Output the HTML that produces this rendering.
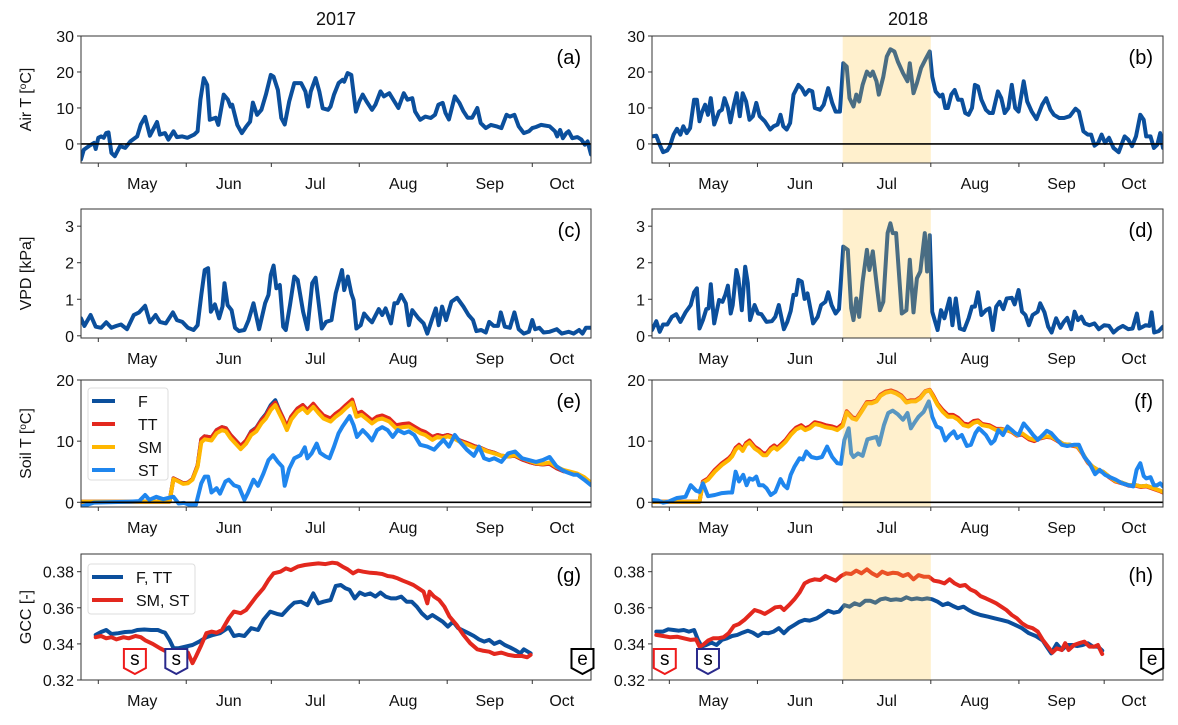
<!DOCTYPE html>
<html><head><meta charset="utf-8"><style>
html,body{margin:0;padding:0;background:#fff;}
svg{display:block;font-family:"Liberation Sans","DejaVu Sans",sans-serif;}
</style></head><body>
<svg id="chart" width="1178" height="725" viewBox="0 0 1178 725" xmlns="http://www.w3.org/2000/svg"></svg>
<script>
// ---------- DATA (days since May 1) ----------
const monthTickDays = [0,31,61,92,123,153];
const monthLabelDays = [15.5,46,76.5,107.5,138,163.4];
const monthLabels = ["May","Jun","Jul","Aug","Sep","Oct"];
const shadeStart = 61, shadeEnd = 92;

const airDays17 = [-6.1,-5.1,-3.3,-1.5,-0.9,0,1,1.9,2.8,3.6,4.6,5.8,7.7,9.5,11.3,13.7,15,16.5,18.2,20.7,21.7,23.5,24.7,26.5,27.7,29.6,31.4,33.8,35,36,37.2,38.4,39.3,41.4,42.3,44.2,45.7,46.6,47.2,49,50.6,52.1,53.5,54.5,56,57.5,59.1,60.8,61.8,63.3,64.5,65.7,67.3,69.1,71.5,73,74,74.9,76.6,77.9,79.1,81,81.9,83.1,84.7,86.1,86.7,87.9,89.2,90.8,92,93.2,94.6,96.5,97.7,99.5,100.7,102.6,104.4,105.8,107.7,109,110.7,111.7,113.5,115.3,117.2,118.7,119.9,121.4,122.4,123.6,124.5,125.7,127.3,128.7,130.2,131.8,133.6,134.8,136.6,138.4,140.3,142.1,143.9,145.1,146.7,148.2,150,151.8,153,154.3,156.1,159.1,161,161.8,162.8,163.8,165,165.8,167.1,168.9,170.3,171.5,172.5,173.7];
const airVals17 = [-4.3,-1.6,-0.6,0.3,-1.4,1.7,2.1,1.7,3.0,3.2,-2.5,-3.4,-0.6,-1.1,0.7,2.1,5.4,7.5,2.3,6.1,2.6,3.0,1.2,3.5,1.9,2.1,1.7,2.6,3.5,12.3,18.3,16.4,6.7,7.3,5.3,13.7,12.3,10.4,10.9,5.3,3.0,4.8,6.2,11.5,8.1,9.5,13.7,19.2,18.7,15.0,7.2,5.4,11.8,16.9,16.9,14.6,10.4,14.6,18.3,14.6,9.9,9.5,10.4,13.7,16.9,17.8,17.3,19.7,19.2,9.0,11.8,13.7,11.8,9.5,10.9,14.6,13.2,14.1,11.8,10.0,14.1,12.3,12.7,9.0,6.7,7.6,7.2,8.1,10.9,11.4,8.6,6.8,9.5,13.2,11.4,9.1,7.3,7.3,10.0,5.8,4.4,5.3,4.9,4.4,8.1,7.6,8.1,4.9,3.0,3.5,4.4,4.7,5.3,4.9,3.5,2.1,3.9,1.6,3.0,3.5,1.6,1.9,1.2,-0.2,0.7,-2.9];

const airDays18 = [-6.1,-4.6,-3.4,-2.2,-0.7,0.2,1.5,2.7,3.9,4.9,6.1,7.3,8.7,9.7,10.6,11.4,12.6,13.6,14.6,15.8,17.5,18.5,19.4,20.6,21.5,22.7,23.7,24.8,25.8,27,28.2,29.4,30.6,31.8,33.6,35.5,36.7,38.1,39.1,40.1,41.3,42.5,43.7,45.4,46.6,47.8,49.1,50.3,51.2,53.1,54.3,55.9,57.3,58.5,60,61.2,62.4,63.4,64.8,65.8,66.8,68,69.5,70.7,71.6,72.9,73.7,75.3,76.5,77.8,79.2,80.4,82.2,83.8,84.6,85.9,87.1,88.6,90.3,91.6,92.5,93.7,95.2,96.1,97.1,98,99.2,100.4,101.6,102.9,104.1,105.3,106.5,107.5,108.6,109.8,111.4,112.6,113.8,115.6,116.8,118,119.3,120.5,121.7,122.9,124.7,125.9,127.5,129.2,131.2,132.6,134.1,135.3,137.2,138.9,140.9,142.9,144.1,145.7,147.2,148.4,149.6,150.9,152.1,153.3,154.7,156.3,158.1,160.2,161.5,162.8,164.2,165.7,166.9,167.8,169.3,170.5,171.7,172.7,173.7];
const airVals18 = [2.1,2.3,-0.2,-2.3,-1.8,-0.6,2.6,4.2,2.6,4.9,3.0,4.4,12.3,12.3,6.3,8.6,10.9,8.1,12.7,5.4,9.0,9.5,12.7,10.0,6.0,10.9,14.1,7.7,14.1,11.8,6.7,7.7,11.4,7.7,6.3,4.0,4.9,5.4,8.1,4.9,4.0,5.8,13.7,16.4,15.5,13.7,15.0,14.6,10.0,9.5,10.9,15.5,11.4,9.0,9.0,22.4,21.5,12.7,10.4,13.7,11.8,16.4,20.1,18.9,20.1,17.4,13.7,18.7,24.3,26.3,25.7,22.9,19.7,17.4,22.4,14.1,16.9,21.1,23.8,25.7,18.7,14.6,13.2,13.7,10.0,10.0,13.7,15.0,12.3,12.3,8.6,8.1,10.0,16.4,16.0,12.3,9.5,8.6,8.6,14.6,12.7,8.6,10.0,16.4,10.0,9.0,17.4,11.8,9.0,6.9,10.9,12.7,9.5,8.1,7.2,7.2,7.7,9.8,9.0,3.5,2.6,2.6,-0.5,0.3,2.6,0.3,1.7,-1.1,-2.3,2.1,1.2,-0.6,2.1,8.1,6.7,2.1,2.1,-1.1,-0.2,3.0,-1.1];

const vpdDays17 = [-6.1,-4.9,-2.7,-0.9,1,2.8,4.6,6.4,8,10.1,12.5,14.4,16.5,18.2,20.2,21.7,23.8,26.3,27.7,29.6,31.6,33.6,35,36.3,37.5,38.7,39.7,41.1,42.6,43.8,44.5,45.6,47,48.2,49.6,51.5,53,54.7,56.7,58.8,60,60.8,61.8,62.8,64,65.2,66.1,67.6,69.1,70.3,72.2,73.7,75.4,76.6,78.8,80.3,82.2,83.7,85.9,86.7,88,89.2,90,91,92.5,93.7,95.3,96.5,98.9,100.1,101.3,103.2,104.4,105.4,106.8,108.4,109.5,110.7,112.9,114.7,116,117.8,119,120,121.2,122.6,124.5,126.5,128.7,130.5,132.1,133.3,135,136.6,137.8,139.4,140.9,141.9,143.3,145.1,146.7,148.2,150,151.8,153,154,155.5,157,159.1,161.6,163.4,165.8,167.6,169.5,170.7,171.9,173.7];
const vpdVals17 = [0.48,0.27,0.57,0.25,0.22,0.37,0.22,0.27,0.31,0.18,0.57,0.64,0.82,0.37,0.57,0.38,0.34,0.64,0.43,0.38,0.22,0.16,0.29,1.12,1.8,1.85,0.66,0.86,0.48,0.8,1.44,0.84,0.7,0.22,0.13,0.16,0.43,0.89,0.18,0.89,1.12,1.67,1.92,1.3,1.39,0.25,0.16,0.84,1.62,1.53,0.66,0.18,1.44,1.59,0.2,0.38,0.43,1.16,1.8,1.25,1.62,1.16,0.98,0.2,0.29,0.61,0.46,0.37,0.73,0.57,0.75,0.34,0.89,0.89,1.12,0.89,0.29,0.7,0.48,0.34,0.06,0.48,0.75,0.29,0.8,0.43,0.93,1.04,0.8,0.57,0.43,0.13,0.16,0.09,0.38,0.27,0.27,0.64,0.25,0.22,0.64,0.18,0.06,0.11,0.43,0.18,0.22,0.09,0.11,0.18,0.06,0.11,0.06,0.16,0.06,0.22,0.22];

const vpdDays18 = [-6.1,-4.6,-3.4,-2.2,-0.7,0.9,2.4,3.9,5.7,7.5,8.7,9.7,10.6,11.8,13,13.8,14.6,15.8,17.5,18.7,19.7,20.6,21.6,22.3,23.6,24.3,25.5,26.7,27.6,28.4,30,31.2,32.4,34.2,36.1,37.3,38.5,40.3,41.5,42.7,43.7,44.6,45.4,46.6,47.6,48.6,49.4,50.6,52.2,53.4,54.9,55.9,57.1,58.5,59.7,61.2,62.8,64,64.8,65.8,66.8,68,69.5,70.4,71.6,73.1,74.1,75.3,76.8,77.8,78.6,79.8,81.8,83.4,84.6,85.9,87.1,88.3,89.9,90.7,91.6,92.5,94.4,95.6,96.8,98.6,99.6,100.8,102.2,103.7,105.3,106.5,107.5,108.6,109.8,111.4,112.6,113.8,115,116.2,117.5,118.7,120.5,121.5,122.9,124.1,125.3,126.5,127.8,129.6,130.5,132,133.3,134.5,136.1,137.6,138.8,140,141.4,142.6,143.8,145,146.2,147.8,149.6,151.1,153,154.7,156.3,157.9,159.6,161.5,163,164.5,165.4,167.6,168.9,169.7,170.6,172.2,173.7];
const vpdVals18 = [0.16,0.4,0.11,0.31,0.31,0.52,0.59,0.38,0.64,0.84,1.19,1.3,0.2,0.43,0.73,0.75,1.41,0.34,0.98,0.93,1.12,1.37,0.61,0.84,1.8,1.57,0.7,1.89,1.44,0.43,0.84,0.61,0.59,0.38,0.4,0.52,0.84,0.18,0.38,0.68,1.12,1.12,1.53,1.48,1.01,1.16,0.84,0.34,0.52,0.84,0.93,1.19,0.84,0.61,0.73,2.44,2.35,0.75,0.43,1.02,0.52,1.48,2.35,1.8,2.31,1.3,0.7,0.93,2.81,3.08,2.81,2.81,0.61,0.7,2.08,0.64,1.57,1.76,2.81,1.76,2.75,0.66,0.16,0.7,0.48,1.02,0.29,1.02,0.2,0.16,0.48,0.8,0.8,1.19,0.57,0.7,0.75,0.16,0.8,0.93,0.73,1.02,1.04,0.86,1.25,0.66,0.57,0.29,0.57,0.66,0.89,0.64,0.25,0.09,0.48,0.22,0.38,0.49,0.18,0.66,0.43,0.52,0.34,0.29,0.34,0.18,0.29,0.27,0.09,0.2,0.27,0.18,0.2,0.61,0.2,0.29,0.27,0.64,0.09,0.13,0.25];

const soilDays17 = [-6.1,25.1,26.5,28.3,29.9,31.6,33.2,35,36.3,37.5,39.9,41.7,43.6,45,46.6,48.4,50.2,52.1,53.9,55.7,57.5,59.1,60.8,62.4,63.7,64.9,66.5,68,70.2,72.1,73.7,75.8,77.6,79.4,81.9,83.7,85.5,87.3,89.5,91,92.8,94.9,96.5,98.3,100.1,102.6,105,107.4,109.5,111.7,113.5,115.3,117.8,119.6,121.4,123.2,125.1,127.5,129.9,132.4,134.8,137.2,139.6,142.1,144.5,146.9,149.4,151.8,154.3,156.7,159.1,161.5,164,166.4,168.9,171.3,173.7];
const soilSM17 = [0.1,0.1,3.8,3.4,3.0,3.1,3.7,5.8,9.8,10.3,10.1,11.3,11.8,11.6,10.5,9.6,8.7,9.6,11.0,11.6,12.9,13.7,15.1,15.9,14.6,13.5,11.8,13.5,14.8,15.4,14.6,15.6,14.6,13.7,13.2,14.0,14.6,15.4,16.3,14.0,14.3,13.5,12.9,13.5,13.7,13.2,12.1,12.3,12.4,11.8,11.3,11.0,10.2,10.7,10.5,10.8,10.5,9.9,9.5,9.0,8.8,8.3,8.0,7.6,7.5,7.7,7.2,6.8,6.4,6.3,6.5,5.8,5.3,5.0,4.7,4.1,3.2];
const soilTT17 = [0.1,0.1,3.9,3.5,3.1,3.2,3.8,6.0,10.3,10.8,10.6,11.8,12.3,12.1,11.0,10.1,9.2,10.1,11.5,12.1,13.4,14.2,15.6,16.3,15.1,14.0,12.3,14.0,15.3,15.9,15.1,16.1,15.1,14.2,13.7,14.5,15.1,15.9,16.8,14.5,14.8,14.0,13.4,14.0,14.2,13.7,12.6,12.8,12.9,12.3,11.8,11.5,10.7,11.0,10.8,11.0,10.7,10.1,9.7,9.2,8.9,8.4,8.1,7.6,7.5,7.6,7.0,6.6,6.3,6.2,6.3,5.6,5.1,4.9,4.6,4.0,3.1];
const soilF17 = [0.1,0.1,3.9,3.5,3.1,3.2,3.8,6.0,10.3,10.8,10.6,11.8,12.3,12.1,11.0,10.1,9.2,10.1,11.6,12.2,13.5,14.4,15.9,16.7,15.2,14.0,12.3,14.0,15.3,15.9,15.1,16.0,15.0,14.1,13.6,14.4,15.0,15.8,16.7,14.4,14.7,13.9,13.3,13.9,14.1,13.6,12.5,12.7,12.8,12.2,11.7,11.4,10.6,11.0,10.8,11.0,10.7,10.1,9.7,9.2,8.9,8.4,8.1,7.6,7.5,7.6,7.0,6.6,6.3,6.2,6.3,5.6,5.1,4.9,4.6,4.0,3.1];

const stDays17 = [-6.1,-3.9,-1.5,3.4,10.7,14.4,16.5,18,20.4,22.9,25.3,26.5,28.3,30.2,32,34.4,36.3,37.5,38.7,39.9,41.7,42.9,44.8,46,47.8,49.6,51.5,52.7,54.7,56.3,58.2,60,61.6,63.3,64.9,65.7,67.3,69.1,71.3,72.8,73.7,75.2,77,78.2,80.1,81.5,83.1,84.7,86.1,88.6,90,91.2,93.2,94.9,96.5,98.3,100.1,102,103.8,105.6,107.8,109.5,111.4,113.5,116,118.4,120,121.7,123.6,125.7,127.5,129.9,132.4,134.2,136,137.8,139.6,142.1,144.5,146.9,149.4,151.8,154.3,156.7,159.1,161.5,163.4,165.2,167.6,168.9,171.3,173.7];
const stVals17 = [-0.7,-0.4,-0.05,0,0.1,0.2,1.2,0.4,0.9,0.5,0.8,0.9,-0.2,-0.1,-0.4,-0.4,3.1,4.2,4.2,1.6,2.3,1.4,3.4,3.7,2.8,2.5,0.4,1.5,3.7,2.7,4.7,6.9,7.7,6.6,5.8,2.7,5.5,7.2,7.7,9.0,7.2,8.0,9.6,8.1,7.5,7.2,9.1,11.3,12.4,14.1,12.6,10.7,11.8,11.0,10.1,11.8,12.3,11.8,10.7,11.8,11.3,11.6,11.0,9.4,9.1,8.6,9.4,10.2,9.1,11.0,9.9,8.6,7.6,9.1,7.2,6.9,7.2,6.6,8.0,8.3,7.2,6.9,6.6,6.9,7.4,5.9,5.3,4.9,4.5,4.5,3.7,2.8];

const soilDays18 = [-6.1,10.6,11.8,13.6,16,18.5,20.9,22.1,23.3,24.5,25.8,27,28.2,30,31.6,33,34.2,35.7,36.9,37.9,39.1,40.9,42.7,44.6,46.4,47.8,49.4,51.2,53.1,54.9,57.3,59.1,61,62.4,64.4,65.8,67.6,69.5,71.3,72.9,74.3,76.1,78,79.8,81.6,83.4,85,86.7,88.3,90.1,91.6,92.8,94.4,96.2,98,99.8,101.6,103.5,105.3,107.1,108.6,110.1,112.6,115,116.8,118.6,120.5,122.3,124.1,126.5,128.4,130.2,132.6,134.4,136.3,138.7,141.1,143.5,145.4,147.2,149,150.8,152.6,154.7,156.9,159.3,161.7,164.2,166,167.8,170.3,172.7,173.7];
const soilSM18 = [0.1,0.1,3.2,3.7,5.0,6.1,6.9,7.5,8.6,9.1,8.4,9.4,9.8,8.8,8.3,7.7,7.7,8.6,9.0,8.6,9.1,9.9,11.0,11.9,12.3,11.8,12.1,12.8,12.6,12.3,12.1,11.8,12.5,14.7,13.7,13.5,14.8,16.2,16.2,16.5,17.4,17.9,18.1,17.8,17.3,16.3,16.5,16.5,17.0,18.1,18.3,17.3,15.9,14.8,14.0,14.0,13.5,12.6,12.4,13.0,13.2,12.6,12.4,11.8,11.9,11.8,11.6,11.0,11.3,10.5,10.2,10.5,10.8,10.7,10.2,9.5,9.4,9.2,8.0,6.6,5.8,5.3,5.0,4.2,3.5,3.2,2.8,2.8,2.6,2.7,2.3,1.9,1.7];
const soilTT18 = [0.1,0.1,3.4,3.9,5.3,6.4,7.2,7.8,8.9,9.4,8.7,9.7,10.1,9.1,8.6,8.0,8.0,8.9,9.3,8.9,9.4,10.2,11.3,12.2,12.6,12.1,12.4,13.1,12.9,12.6,12.4,12.1,12.8,14.9,13.9,13.7,15.0,16.4,16.4,16.7,17.6,18.1,18.3,18.0,17.5,16.5,16.7,16.7,17.2,18.2,18.4,17.5,16.1,15.1,14.3,14.3,13.8,12.9,12.7,13.3,13.4,12.8,12.6,12.0,12.0,11.8,11.5,10.9,11.1,10.3,10.0,10.4,10.7,10.6,10.1,9.4,9.3,9.1,7.9,6.5,5.7,5.2,4.9,4.1,3.4,3.1,2.7,2.7,2.5,2.6,2.2,1.8,1.6];
const soilF18 = [0.1,0.1,3.3,3.8,5.2,6.3,7.1,7.7,8.8,9.3,8.6,9.6,10.0,9.0,8.5,7.9,7.9,8.8,9.2,8.8,9.3,10.1,11.2,12.1,12.5,12.0,12.3,13.0,12.8,12.5,12.3,12.0,12.7,14.8,13.8,13.6,14.9,16.3,16.3,16.6,17.5,18.0,18.2,17.9,17.4,16.4,16.6,16.6,17.1,18.1,18.3,17.4,16.0,15.0,14.2,14.2,13.7,12.8,12.6,13.2,13.3,12.7,12.5,11.9,12.0,11.8,11.6,11.0,11.2,10.4,10.1,10.5,10.8,10.7,10.2,9.5,9.4,9.2,8.0,6.6,5.8,5.3,5.0,4.2,3.5,3.2,2.8,2.8,2.6,2.7,2.3,1.9,1.7];

const stDays18 = [-6.1,-4,-2.2,-0.4,2.7,5.7,7.5,9.4,10.6,11.8,13.6,16,18.5,20.9,22.1,23.3,24.5,26,27.2,28.2,29.4,30.6,31.6,33,34.2,35.7,37.3,39.1,40.3,41.5,42.7,44,45.8,47,48.2,50,51.9,53.7,55.5,57.3,59.1,60.4,61.6,63.1,64,64.8,66.4,68,69.7,71.3,72.9,73.8,75.5,77,78.6,80.4,82.2,83.8,85,86.5,87.7,89.5,91.3,92.5,94,95.6,97.1,98.6,100.1,101.3,102.9,104.7,106.1,107.7,108.9,110.1,111.4,113.2,114.4,115.8,117.4,119,120.5,121.7,122.9,124.7,126.5,128,129.6,131.4,132.8,134.4,136.3,138.1,140,142.3,144.1,146,147.8,149.8,151.4,153.3,155.1,157.1,159.3,161.5,163.2,164.4,165.7,166.9,167.8,169.3,170.5,171.7,172.7,173.7];
const stVals18 = [0.4,0.3,-0.05,0.1,0.7,0.9,2.8,1.9,1.7,3.1,1.0,1.2,1.5,1.6,1.6,5.0,3.4,4.5,2.8,3.9,3.7,4.2,2.8,2.8,2.3,1.2,1.7,3.8,2.8,2.3,4.5,5.8,7.2,7.0,8.3,7.4,7.2,7.4,9.1,7.4,6.4,6.3,10.2,12.1,8.0,7.4,8.0,7.6,10.3,10.5,10.7,9.4,12.6,14.6,15.0,14.4,13.5,14.6,12.1,13.2,14.0,14.8,16.5,14.0,12.4,12.1,10.1,11.0,11.6,10.5,11.0,9.2,9.4,11.3,12.1,11.6,11.0,9.6,10.1,11.8,11.0,12.4,11.8,11.3,11.0,12.9,11.9,11.0,10.2,11.0,11.7,11.3,10.3,9.4,9.2,9.4,9.4,7.4,6.4,4.6,5.3,4.5,4.1,3.7,3.1,2.8,2.6,5.3,6.4,4.3,3.9,4.1,2.8,2.8,3.1,2.6];

const gccDaysB17 = [-0.9,1,2.8,4.6,7.1,9.5,11.9,13.7,16.2,18.6,21,22.3,23.5,25.1,26.5,28.3,30.8,33.2,35.6,38.1,40.5,42.9,46,47.8,49.6,51.5,53.9,56.3,58.2,60.6,63,64.8,67.3,69.1,71.5,73.7,75.8,77.6,79.4,81.9,83.7,85.5,87.1,88.6,90.4,92.2,94,95.9,97.7,99.5,101.3,103.2,105,106.8,108.7,110.5,112.3,114.1,116,117.8,119.6,121.4,123.2,125.1,126.9,128.7,130.5,132.4,134.2,136,137.8,139.6,141.5,143.3,145.1,146.9,148.8,150,152.4];
const gccFTT17 = [0.345,0.3466,0.3477,0.3455,0.3459,0.3466,0.3468,0.3477,0.348,0.3477,0.3477,0.3468,0.3462,0.3422,0.3376,0.3376,0.3385,0.3394,0.3413,0.3437,0.345,0.3459,0.3492,0.3444,0.345,0.3444,0.3487,0.3477,0.3533,0.3579,0.3566,0.356,0.3603,0.3628,0.3634,0.3615,0.368,0.3625,0.3634,0.3643,0.3721,0.3726,0.3708,0.3699,0.3652,0.3684,0.3671,0.368,0.3662,0.3684,0.3662,0.3652,0.3652,0.3662,0.3634,0.3634,0.3606,0.3569,0.3542,0.356,0.3542,0.3523,0.3496,0.3523,0.3487,0.3473,0.3459,0.3444,0.3425,0.3413,0.3422,0.34,0.3413,0.3394,0.3381,0.3366,0.3348,0.337,0.3348];
const gccDaysR17 = [-0.9,1,2.8,4.6,6.4,8.9,10.7,13.1,15,16.7,19.2,21.7,24.1,26.5,29.6,31.6,33.2,34.4,36.3,38.1,39.9,41.7,43.6,46,47.8,50.2,52.1,53.9,55.7,58.2,60,61.8,64.2,66.1,67.9,70.3,72.8,75.2,77.6,80.1,82.5,84.3,86.1,87.9,89.8,91.6,93.4,95.9,98.3,100.1,102,103.8,105.6,107.4,109.2,111.1,112.9,114.7,116,116.8,118.4,120.2,122,123.8,126.3,128.7,131.1,133.6,135.4,137.8,139.6,142.1,144.5,146.9,149.4,151.2,152.4];
const gccSMST17 = [0.3437,0.3444,0.3431,0.3437,0.3425,0.3437,0.3431,0.3444,0.3437,0.3418,0.34,0.3376,0.3357,0.3366,0.3339,0.3352,0.3293,0.333,0.3394,0.3459,0.3468,0.3462,0.3477,0.3542,0.3579,0.357,0.3588,0.3625,0.3662,0.3708,0.3754,0.3791,0.38,0.3818,0.3809,0.3828,0.3837,0.3842,0.3846,0.3842,0.385,0.3846,0.3828,0.3813,0.3791,0.3806,0.38,0.3794,0.3791,0.3787,0.3776,0.3772,0.3763,0.375,0.3739,0.3726,0.3708,0.3689,0.3625,0.3689,0.3662,0.3643,0.3606,0.3551,0.3505,0.345,0.3404,0.337,0.3363,0.3357,0.3344,0.3352,0.3339,0.3333,0.3333,0.3326,0.3339];

const gccDaysB18 = [-4.6,-2.2,-0.4,1.5,3.3,5.1,6.9,8.7,10,11.4,13,14.8,16.6,18.5,20.3,22.1,23.9,25.7,27.6,29.4,31.2,33,34.9,36.7,38.5,40.3,42.1,44,45.8,47.6,49.4,51.9,53.7,55.9,57.9,59.7,61.6,63.4,65.2,67,68.9,70.7,72.5,74.3,76.1,77.9,79.8,81.6,83.4,85.2,87.1,88.9,90.7,92.5,94.4,96.2,98,99.8,101.6,103.5,105.3,107.1,109.5,112,114.4,116.8,119.2,121.7,124.1,126.5,128.9,131.4,133.2,134.4,136.3,138.1,140,141.8,143.5,145.4,147.2,149,150.8,152.3];
const gccFTT18 = [0.3468,0.3468,0.3481,0.3477,0.3473,0.3477,0.3468,0.3477,0.3425,0.3385,0.3394,0.3407,0.3394,0.3422,0.3431,0.3444,0.345,0.3462,0.3473,0.3462,0.3444,0.3462,0.3459,0.3468,0.3487,0.3459,0.3487,0.3505,0.3523,0.3533,0.3529,0.3542,0.356,0.3584,0.3573,0.3579,0.3615,0.3606,0.3625,0.3615,0.3639,0.3639,0.3628,0.3647,0.3652,0.3643,0.3647,0.3643,0.3658,0.3647,0.3652,0.3647,0.3652,0.3647,0.3634,0.3615,0.3625,0.361,0.3597,0.3606,0.3588,0.3573,0.356,0.3551,0.3542,0.3533,0.3523,0.3505,0.3487,0.3459,0.3444,0.3418,0.3375,0.3348,0.34,0.3366,0.3394,0.3394,0.3388,0.3394,0.3404,0.3385,0.3385,0.3363];
const gccDaysR18 = [-4.6,-2.2,0.2,2.7,5.1,7.5,9.4,10.6,11.8,13.6,15.4,17.2,19.1,20.9,22.7,24.5,26.4,28.2,30,31.8,33.6,35.5,37.3,39.1,40.3,42.1,44,45.8,47.6,49.4,51.2,53.1,54.9,56.7,58.5,60.4,62.2,64,65.8,67.6,69.5,71.3,73.1,74.9,76.8,78.6,80.4,82.2,84,85.9,87.7,89.5,91.3,93.1,95,96.8,98.6,100.4,102.2,104.1,105.9,107.7,109.5,111.4,113.2,115,116.8,118.6,120.5,122.3,124.1,125.9,127.8,129.6,131.4,133.2,134.8,136.3,138.1,139.3,140.5,142.4,144.2,146,147.8,149.6,150.8,152.3];
const gccSMST18 = [0.345,0.3444,0.3437,0.344,0.3431,0.3422,0.3425,0.3385,0.3394,0.3418,0.3431,0.3431,0.3437,0.3459,0.3499,0.351,0.3533,0.356,0.3588,0.3579,0.3566,0.3584,0.3603,0.3606,0.3588,0.3615,0.3647,0.3684,0.3735,0.375,0.3758,0.3754,0.3776,0.3763,0.375,0.3776,0.3791,0.3787,0.3806,0.3791,0.3813,0.3791,0.3776,0.38,0.3787,0.3794,0.3791,0.3776,0.3787,0.3758,0.3781,0.3772,0.3772,0.375,0.3745,0.3735,0.3758,0.3735,0.3721,0.3726,0.3702,0.3689,0.3665,0.3652,0.3639,0.3625,0.3606,0.3588,0.356,0.3542,0.3514,0.3496,0.3487,0.3468,0.3422,0.3385,0.3352,0.3375,0.3366,0.3404,0.3366,0.3394,0.3404,0.3413,0.3385,0.3385,0.3394,0.3344];

const markerLabels = ["s","s","e"];
const markerDays17 = [12.9,27.5,170.7];
const markerDays18 = [-1.6,13.6,169.9];

// ---------- LAYOUT ----------
const NS = "http://www.w3.org/2000/svg";
const svg = document.getElementById("chart");
const DMIN = -6.1, DMAX = 173.7;
const C_BLUE = "#0b4f9c", C_RED = "#e3281e", C_YEL = "#ffb700", C_LBLUE = "#1f86ee";
const LW = 4;

function mk(tag, attrs, parent) {
  const e = document.createElementNS(NS, tag);
  for (const k in attrs) e.setAttribute(k, attrs[k]);
  (parent || svg).appendChild(e);
  return e;
}
function xs(P, d) { return P.x0 + (d - DMIN) / (DMAX - DMIN) * (P.x1 - P.x0); }
function ys(P, v) { return P.y1 - (v - P.ymin) / (P.ymax - P.ymin) * (P.y1 - P.y0); }

let clipId = 0;
function panel(P) {
  const g = mk("g", {});
  
  
  P.g = g;
  const cid = "clip" + (clipId++);
  const cp = mk("clipPath", { id: cid }, g);
  mk("rect", { x: P.x0, y: P.y0, width: P.x1 - P.x0, height: P.y1 - P.y0 }, cp);
  P.plot = mk("g", { "clip-path": "url(#" + cid + ")" }, g);
  return P;
}
function series(P, days, vals, color, name) {
  let d = "";
  const n = Math.min(days.length, vals.length);
  for (let i = 0; i < n; i++) d += (i ? "L" : "M") + xs(P, days[i]).toFixed(1) + " " + ys(P, vals[i]).toFixed(1);
  const p = mk("path", { d: d, fill: "none", stroke: color, "stroke-width": LW, "stroke-linejoin": "round", "stroke-linecap": "round" }, P.plot);
  
  
}
function finish(P, opts) {
  if (opts.shade) {
    const r = mk("rect", { x: xs(P, shadeStart), y: P.y0, width: xs(P, shadeEnd) - xs(P, shadeStart), height: P.y1 - P.y0, fill: "#ffc53d", "fill-opacity": 0.26 }, P.plot);
    
    
  }
  if (opts.zero) {
    const z = mk("line", { x1: P.x0, x2: P.x1, y1: ys(P, 0), y2: ys(P, 0), stroke: "#000", "stroke-width": 1.6 }, P.g);
    
    
  }
  const f = mk("rect", { x: P.x0, y: P.y0, width: P.x1 - P.x0, height: P.y1 - P.y0, fill: "none", stroke: "#333", "stroke-width": 1 }, P.g);
  
  
  for (let i = 0; i < monthTickDays.length; i++) {
    const x = xs(P, monthTickDays[i]);
    const t = mk("line", { x1: x, x2: x, y1: P.y1, y2: P.y1 + 4, stroke: "#333", "stroke-width": 1 }, P.g);
    
    
  }
  for (let i = 0; i < monthLabels.length; i++) {
    const t = mk("text", { x: xs(P, monthLabelDays[i]), y: P.y1 + 26, "text-anchor": "middle", "font-size": 16, fill: "#111" }, P.g);
    t.textContent = monthLabels[i];
    
    
  }
  for (let i = 0; i < P.yticks.length; i++) {
    const y = ys(P, P.yticks[i]);
    const t = mk("line", { x1: P.x0 - 4, x2: P.x0, y1: y, y2: y, stroke: "#333", "stroke-width": 1 }, P.g);
    
    
    const l = mk("text", { x: P.x0 - 7, y: y + 6, "text-anchor": "end", "font-size": 16, fill: "#111" }, P.g);
    l.textContent = P.ytickLabels[i];
    
    
  }
  const pl = mk("text", { x: P.x1 - 10, y: P.y0 + 28, "text-anchor": "end", "font-size": 20, fill: "#000" }, P.g);
  pl.textContent = opts.label;
  
  
}
function yTitle(P, parts) {
  const cy = (P.y0 + P.y1) / 2;
  const t = mk("text", { x: 0, y: 0, transform: "translate(31," + cy + ") rotate(-90)", "text-anchor": "middle", "font-size": 16, fill: "#111" });
  
  
  for (const p of parts) {
    const s = mk("tspan", p.sup ? { "baseline-shift": "super", "font-size": 10 } : {}, t);
    s.textContent = p.t;
  }
}
function markers(P, days) {
  const cols = ["#ee1b1b", "#2a2a8c", "#000"];
  for (let i = 0; i < days.length; i++) {
    const cx = xs(P, days[i]), top = 649;
    const g = mk("g", {}, P.g);
    
    
    mk("path", { d: "M" + (cx - 11) + " " + top + "H" + (cx + 11) + "V" + (top + 19) + "L" + cx + " " + (top + 25) + "L" + (cx - 11) + " " + (top + 19) + "Z", fill: "#fff", stroke: cols[i], "stroke-width": 2 }, g);
    const t = mk("text", { x: cx, y: top + 16, "text-anchor": "middle", "font-size": 19, fill: "#000" }, g);
    t.textContent = markerLabels[i];
  }
}
function legend(P, x, y, w, h, entries) {
  const g = mk("g", {}, P.g);
  
  
  mk("rect", { x: x, y: y, width: w, height: h, rx: 3, fill: "#fff", "fill-opacity": 0.85, stroke: "#ddd", "stroke-width": 1 }, g);
  entries.forEach((e, i) => {
    const ey = y + 13 + i * e.step;
    const eg = mk("g", {}, g);
    
    
    mk("line", { x1: x + 4, x2: x + e.len, y1: ey, y2: ey, stroke: e.c, "stroke-width": 4 }, eg);
    const t = mk("text", { x: x + e.tx, y: ey + 6, "font-size": 16, fill: "#111" }, eg);
    t.textContent = e.t;
  });
}

[["2017", 336], ["2018", 908]].forEach(a => {
  const t = mk("text", { x: a[1], y: 25, "text-anchor": "middle", "font-size": 18, fill: "#111" });
  t.textContent = a[0];
  
  
});

const L = { x0: 81, x1: 591 }, R = { x0: 652, x1: 1163 };
const rowA = { y0: 36, y1: 163, ymin: -5.3, ymax: 30, yticks: [0, 10, 20, 30], ytickLabels: ["0", "10", "20", "30"] };
const rowC = { y0: 209, y1: 338, ymin: -0.06, ymax: 3.47, yticks: [0, 1, 2, 3], ytickLabels: ["0", "1", "2", "3"] };
const rowE = { y0: 380, y1: 507, ymin: -0.77, ymax: 20, yticks: [0, 10, 20], ytickLabels: ["0", "10", "20"] };
const rowG = { y0: 554, y1: 680, ymin: 0.32, ymax: 0.3898, yticks: [0.32, 0.34, 0.36, 0.38], ytickLabels: ["0.32", "0.34", "0.36", "0.38"] };

let P = panel(Object.assign({ name: "panel-a-air-temp-2017" }, L, rowA));
series(P, airDays17, airVals17, C_BLUE, "air-temp-line");
finish(P, { zero: true, label: "(a)" });
yTitle(P, [{ t: "Air T [" }, { t: "o", sup: true }, { t: "C]" }]);

P = panel(Object.assign({ name: "panel-b-air-temp-2018" }, R, rowA));
series(P, airDays18, airVals18, C_BLUE, "air-temp-line");
finish(P, { zero: true, shade: true, label: "(b)" });

P = panel(Object.assign({ name: "panel-c-vpd-2017" }, L, rowC));
series(P, vpdDays17, vpdVals17, C_BLUE, "vpd-line");
finish(P, { label: "(c)" });
yTitle(P, [{ t: "VPD [kPa]" }]);

P = panel(Object.assign({ name: "panel-d-vpd-2018" }, R, rowC));
series(P, vpdDays18, vpdVals18, C_BLUE, "vpd-line");
finish(P, { shade: true, label: "(d)" });

P = panel(Object.assign({ name: "panel-e-soil-temp-2017" }, L, rowE));
series(P, soilDays17, soilF17, C_BLUE, "soil-temp-F-line");
series(P, soilDays17, soilTT17, C_RED, "soil-temp-TT-line");
series(P, soilDays17, soilSM17, C_YEL, "soil-temp-SM-line");
series(P, stDays17, stVals17, C_LBLUE, "soil-temp-ST-line");
finish(P, { zero: true, label: "(e)" });
yTitle(P, [{ t: "Soil T [" }, { t: "o", sup: true }, { t: "C]" }]);
legend(P, 88, 388, 80, 92, [
  { t: "F", c: C_BLUE, step: 23, len: 27, tx: 50 },
  { t: "TT", c: C_RED, step: 23, len: 27, tx: 50 },
  { t: "SM", c: C_YEL, step: 23, len: 27, tx: 50 },
  { t: "ST", c: C_LBLUE, step: 23, len: 27, tx: 50 }]);

P = panel(Object.assign({ name: "panel-f-soil-temp-2018" }, R, rowE));
series(P, soilDays18, soilF18, C_BLUE, "soil-temp-F-line");
series(P, soilDays18, soilTT18, C_RED, "soil-temp-TT-line");
series(P, soilDays18, soilSM18, C_YEL, "soil-temp-SM-line");
series(P, stDays18, stVals18, C_LBLUE, "soil-temp-ST-line");
finish(P, { zero: true, shade: true, label: "(f)" });

P = panel(Object.assign({ name: "panel-g-gcc-2017" }, L, rowG));
series(P, gccDaysB17, gccFTT17, C_BLUE, "gcc-F-TT-line");
series(P, gccDaysR17, gccSMST17, C_RED, "gcc-SM-ST-line");
finish(P, { label: "(g)" });
yTitle(P, [{ t: "GCC [-]" }]);
legend(P, 88, 564, 107, 50, [
  { t: "F, TT", c: C_BLUE, step: 23, len: 35, tx: 48 },
  { t: "SM, ST", c: C_RED, step: 23, len: 35, tx: 48 }]);
markers(P, markerDays17);

P = panel(Object.assign({ name: "panel-h-gcc-2018" }, R, rowG));
series(P, gccDaysB18, gccFTT18, C_BLUE, "gcc-F-TT-line");
series(P, gccDaysR18, gccSMST18, C_RED, "gcc-SM-ST-line");
finish(P, { shade: true, label: "(h)" });
markers(P, markerDays18);
</script>
</body></html>
